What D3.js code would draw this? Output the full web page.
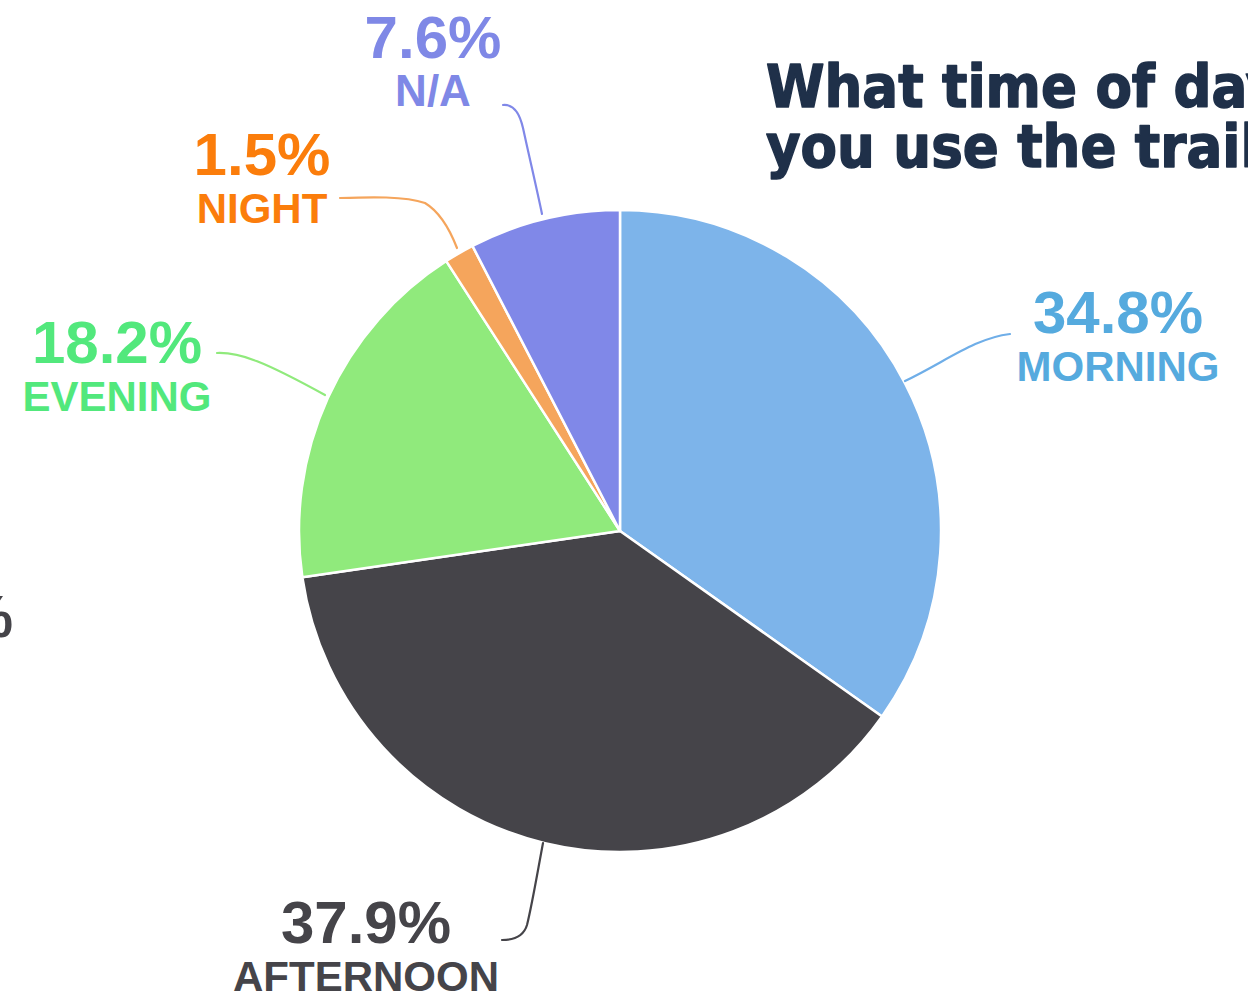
<!DOCTYPE html>
<html><head><meta charset="utf-8">
<script src="https://cdn.jsdelivr.net/npm/d3@7"></script>
<style>
html,body{margin:0;padding:0;background:#fff;overflow:hidden;}
svg{display:block;}
</style></head>
<body>
<svg id="chart" width="1248" height="996"></svg>
<script>
// ---- data ----
const categories = ["MORNING", "AFTERNOON", "EVENING", "NIGHT", "N/A"];
const values = [34.8, 37.9, 18.2, 1.5, 7.6];
const sliceColors = ["#7db4ea", "#454449", "#90ea7c", "#f5a55c", "#8088e8"];
const labelColors = ["#55aade", "#454449", "#52e87c", "#fb7d0b", "#7f88e6"];
const leaderColors = ["#6faee8", "#454449", "#90ea7c", "#f5a55c", "#8088e8"];
const titleLines = ["What time of day do", "you use the trail?"];

// ---- layout ----
const W = 1248, H = 996;
const cx = 620, cy = 531, R = 321;
const svg = d3.select("#chart");

const pie = d3.pie().sort(null).value(d => d.v);
const arc = d3.arc().innerRadius(0).outerRadius(R);
const data = categories.map((c, i) => ({c, v: values[i], i}));
const arcs = pie(data);

const g = svg.append("g").attr("transform", `translate(${cx},${cy})`);
g.selectAll("path").data(arcs).join("path")
  .attr("d", arc)
  .attr("fill", d => sliceColors[d.data.i])
  .attr("stroke", "#fff").attr("stroke-width", 2.5).attr("stroke-linejoin", "round");

// label positions (centre x, baseline of value text, name font size)
const labelPos = {
  "MORNING": [1118, 333, 42],
  "AFTERNOON": [366, 943, 42],
  "EVENING": [117, 363, 42],
  "NIGHT": [262, 175, 42],
  "N/A": [433, 58, 44]
};
// leader paths
const leaders = {
  "MORNING": "M905,381 C945,362 975,338 1010,334",
  "AFTERNOON": "M543,843 C537,875 532,905 527,925 C524,935 515,940 502,940",
  "EVENING": "M217,353 C240,352 265,362 325,395",
  "NIGHT": "M340,198 C370,197 405,196 425,203 C440,212 450,230 457,248",
  "N/A": "M503,105 C515,104 520,115 523,128 C530,160 537,190 542,214"
};

const fmt = d3.format(".1f");
arcs.forEach(a => {
  const c = a.data.c, i = a.data.i;
  const [x, y, fs] = labelPos[c];
  svg.append("path").attr("d", leaders[c]).attr("fill", "none")
    .attr("stroke", leaderColors[i])
    .attr("stroke-width", 2.2).attr("stroke-linecap", "round");
  svg.append("text").attr("x", x).attr("y", y)
    .attr("text-anchor", "middle")
    .attr("font-family", "'Liberation Sans', Arial, sans-serif")
    .attr("font-weight", 700).attr("font-size", 60)
    .attr("fill", labelColors[i]).text(fmt(a.data.v) + "%");
  svg.append("text").attr("x", x).attr("y", y + 48)
    .attr("text-anchor", "middle")
    .attr("font-family", "'Liberation Sans', Arial, sans-serif")
    .attr("font-weight", 700).attr("font-size", fs)
    .attr("fill", labelColors[i]).text(c);
});

// fragment of neighbouring label at left edge
svg.append("text").attr("x", 13).attr("y", 637).attr("text-anchor", "end")
  .attr("font-family", "'Liberation Sans', Arial, sans-serif")
  .attr("font-weight", 700).attr("font-size", 60).attr("fill", "#454449").text("%");

// title
svg.selectAll("text.title").data(titleLines).join("text").attr("class", "title")
  .attr("transform", (d, i) => `translate(766,${107 + i * 60}) scale(0.9,1)`)
  .attr("font-family", "'DejaVu Sans', sans-serif")
  .attr("font-weight", 700).attr("font-size", 59)
  .attr("fill", "#1f3049").attr("stroke", "#1f3049").attr("stroke-width", 1.6)
  .attr("stroke-linejoin", "round").text(d => d);
</script>
</body></html>
